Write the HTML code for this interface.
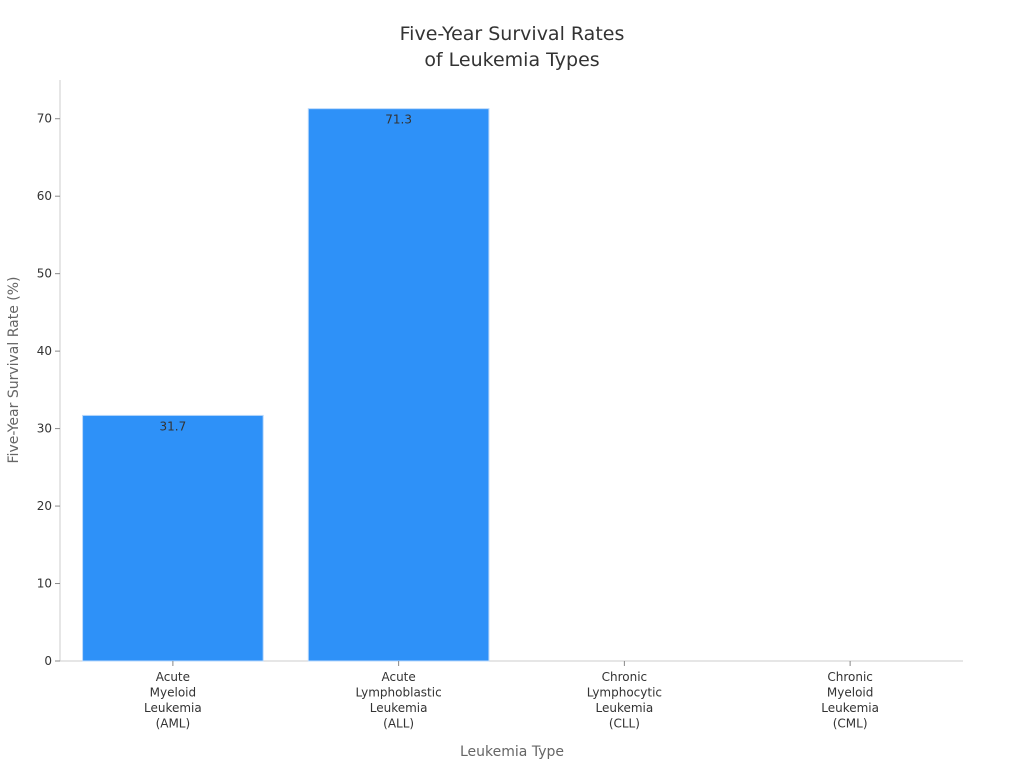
<!DOCTYPE html>
<html><head><meta charset="utf-8"><style>
html,body{margin:0;padding:0;background:#fff;}
svg{display:block;font-family:"DejaVu Sans","Liberation Sans",sans-serif;}
</style></head><body>
<svg id="chart" width="1024" height="768" viewBox="0 0 1024 768">
<text x="512" y="40" text-anchor="middle" font-size="19" fill="#333"><tspan x="512" y="40">Five-Year Survival Rates</tspan><tspan x="512" y="66">of Leukemia Types</tspan></text>
<text x="512" y="756" text-anchor="middle" font-size="14" fill="#666">Leukemia Type</text>
<text transform="translate(18,370) rotate(-90)" text-anchor="middle" font-size="14" fill="#666">Five-Year Survival Rate (%)</text>
<g id="plot"></g>
</svg>
<script>
const categories = ["AML","ALL","CLL","CML"];
const labelLines = [["Acute","Myeloid","Leukemia","(AML)"],["Acute","Lymphoblastic","Leukemia","(ALL)"],["Chronic","Lymphocytic","Leukemia","(CLL)"],["Chronic","Myeloid","Leukemia","(CML)"]];
const values = [31.7, 71.3, 0, 0];
const yTicks = [0,10,20,30,40,50,60,70];
const yMax = 75;

const NS = "http://www.w3.org/2000/svg";
const g = document.getElementById("plot");
const x0 = 60, x1 = 963, yBottom = 661, yTop = 80;
const band = (x1 - x0) / categories.length;
function xc(i){ return x0 + band * (i + 0.5); }
function y(v){ return yBottom - (v / yMax) * (yBottom - yTop); }
function mk(tag, attrs){ const e = document.createElementNS(NS, tag); for (const k in attrs) e.setAttribute(k, attrs[k]); g.appendChild(e); return e; }

const yAxis = mk("line",{x1:x0,y1:yTop,x2:x0,y2:yBottom,stroke:"#ccc"});


const xAxis = mk("line",{x1:x0,y1:yBottom,x2:x1,y2:yBottom,stroke:"#ccc"});



yTicks.forEach(t => {
  const tk = mk("line",{x1:x0-5,y1:y(t),x2:x0,y2:y(t),stroke:"#888"});
  
  
  const tl = mk("text",{x:x0-8,y:y(t)+4,"text-anchor":"end","font-size":12,fill:"#333"});
  tl.textContent = t;
  
  
});

const bw = band * 0.8;
categories.forEach((c, i) => {
  const v = values[i];
  if (v > 0) {
    const r = mk("rect",{x:xc(i)-bw/2,y:y(v),width:bw,height:yBottom-y(v),fill:"#2e91f8",stroke:"#b8d8fb","stroke-width":1});
    
    
    const vl = mk("text",{x:xc(i),y:y(v)+15,"text-anchor":"middle","font-size":12,fill:"#333"});
    vl.textContent = v.toFixed(1);
    
    
  }
  const xt = mk("line",{x1:xc(i),y1:yBottom,x2:xc(i),y2:yBottom+5,stroke:"#888"});
  
  
  const xl = mk("text",{x:xc(i),y:yBottom+20,"text-anchor":"middle","font-size":12,fill:"#333"});
  
  
  labelLines[i].forEach((ln, j) => {
    const ts = document.createElementNS(NS, "tspan");
    ts.setAttribute("x", xc(i));
    ts.setAttribute("y", yBottom + 20 + j * 15.5);
    ts.textContent = ln;
    xl.appendChild(ts);
  });
});
</script>
</body></html>
